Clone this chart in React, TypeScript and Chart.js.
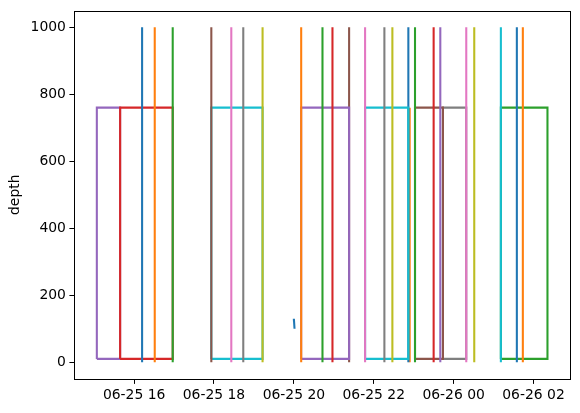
import { useEffect, useRef } from "react";
import { Chart, registerables } from "chart.js";

Chart.register(...registerables);

// matplotlib tab10 colour cycle
const palette = [
  "#1f77b4", "#ff7f0e", "#2ca02c", "#d62728", "#9467bd",
  "#8c564b", "#e377c2", "#7f7f7f", "#bcbd22", "#17becf",
];

// one entry per plotted series (in plotting order -> colour cycle)
const seriesKind = [
  "line", "line", "line", "box", "box", "line", "line", "line", "line", "box",
  "line", "line", "line", "line", "box", "line", "line", "line", "line", "box",
  "line", "line", "line", "line", "line", "box", "line", "box", "line", "line",
  "line", "line", "box",
];
const seriesStart = [
  "06-25 16:12", "06-25 16:31", "06-25 16:58", "06-25 15:39", "06-25 15:04",
  "06-25 17:56", "06-25 18:26", "06-25 18:44", "06-25 19:13", "06-25 17:56",
  "06-25 20:01", "06-25 20:11", "06-25 20:43", "06-25 20:58", "06-25 20:11",
  "06-25 21:23", "06-25 21:47", "06-25 22:16", "06-25 22:28", "06-25 21:47",
  "06-25 22:52", "06-25 22:54", "06-25 23:02", "06-25 23:30", "06-25 23:40",
  "06-25 23:02", "06-26 00:19", "06-25 23:44", "06-26 00:31", "06-26 01:11",
  "06-26 01:35", "06-26 01:44", "06-26 01:11",
];
const seriesEnd = [
  "06-25 16:12", "06-25 16:31", "06-25 16:58", "06-25 16:58", "06-25 15:39",
  "06-25 17:56", "06-25 18:26", "06-25 18:44", "06-25 19:13", "06-25 19:13",
  "06-25 20:00", "06-25 20:11", "06-25 20:43", "06-25 20:58", "06-25 21:23",
  "06-25 21:23", "06-25 21:47", "06-25 22:16", "06-25 22:28", "06-25 22:52",
  "06-25 22:52", "06-25 22:54", "06-25 23:02", "06-25 23:30", "06-25 23:40",
  "06-25 23:44", "06-26 00:19", "06-26 00:19", "06-26 00:31", "06-26 01:11",
  "06-26 01:35", "06-26 01:44", "06-26 02:21",
];
const seriesBottom = [
  0, 0, 0, 10, 10, 0, 0, 0, 0, 10,
  100, 0, 0, 0, 10, 0, 0, 0, 0, 10,
  0, 0, 0, 0, 0, 10, 0, 10, 0, 0,
  0, 0, 10,
];
const seriesTop = [
  1000, 1000, 1000, 760, 760, 1000, 1000, 1000, 1000, 760,
  130, 1000, 1000, 1000, 760, 1000, 1000, 1000, 1000, 760,
  1000, 760, 1000, 1000, 1000, 760, 1000, 760, 1000, 1000,
  1000, 1000, 760,
];

const xTickLabels = ["06-25 16", "06-25 18", "06-25 20", "06-25 22", "06-26 00", "06-26 02"];
const yTickValues = [0, 200, 400, 600, 800, 1000];
const yLabel = "depth";

// hours since 06-25 00:00
function toHours(s: string): number {
  const [md, hm] = s.split(" ");
  const day = parseInt(md.split("-")[1], 10);
  const [h, m] = (hm || "00:00").split(":").map((v) => parseInt(v, 10));
  return (day - 25) * 24 + h + (m || 0) / 60;
}

function fmtHours(v: number): string {
  const day = 25 + Math.floor(v / 24);
  const h = Math.round(v - Math.floor(v / 24) * 24);
  return `06-${String(day).padStart(2, "0")} ${String(h).padStart(2, "0")}`;
}

const frame = {
  id: "frame",
  afterDatasetsDraw(chart: any) {
    const { ctx, chartArea: a } = chart;
    ctx.save();
    ctx.strokeStyle = "#000";
    ctx.lineWidth = 1;
    ctx.strokeRect(Math.round(a.left) + 0.5, Math.round(a.top) + 0.5,
      Math.round(a.right - a.left), Math.round(a.bottom - a.top) - 1);
    ctx.restore();
  },
};

export default function App() {
  const ref = useRef<HTMLCanvasElement | null>(null);

  useEffect(() => {
    if (!ref.current) return;
    const datasets = seriesKind.map((kind, i) => {
      const s = toHours(seriesStart[i]);
      const e = toHours(seriesEnd[i]);
      const b = seriesBottom[i];
      const t = seriesTop[i];
      const data = kind === "box"
        ? [{ x: s, y: b }, { x: s, y: t }, { x: e, y: t }, { x: e, y: b }, { x: s, y: b }]
        : [{ x: s, y: b }, { x: e, y: t }];
      const color = palette[i % palette.length];
      return {
        data,
        showLine: true,
        borderColor: color,
        backgroundColor: color,
        borderWidth: 2.08,
        pointRadius: 0,
        pointHoverRadius: 0,
        fill: false,
        tension: 0,
        borderJoinStyle: "miter" as const,
      };
    });

    const allT = [...seriesStart, ...seriesEnd].map(toHours);
    const tMin = Math.min(...allT);
    const tMax = Math.max(...allT);
    const pad = (tMax - tMin) * 0.05;
    const dMin = Math.min(...seriesBottom, ...yTickValues);
    const dMax = Math.max(...seriesTop, ...yTickValues);
    const dPad = (dMax - dMin) * 0.05;

    const font = { family: "'DejaVu Sans', sans-serif", size: 13.9 };

    const chart = new Chart(ref.current, {
      type: "scatter",
      data: { datasets: datasets as any },
      plugins: [frame],
      options: {
        animation: false,
        responsive: false,
        events: [],
        layout: { padding: { left: 0, top: 10.5, right: 10, bottom: 0 } },
        plugins: { legend: { display: false }, tooltip: { enabled: false } },
        scales: {
          x: {
            type: "linear",
            min: tMin - pad,
            max: tMax + pad,
            afterFit: (sc: any) => { sc.height = 34; sc.paddingLeft = 0; sc.paddingRight = 0; },
            afterBuildTicks: (sc: any) => {
              sc.ticks = xTickLabels.map((l) => ({ value: toHours(l) }));
            },
            border: { display: false },
            grid: {
              drawOnChartArea: false, drawTicks: true, tickLength: 4.9,
              tickColor: "#000", tickWidth: 1,
            },
            ticks: {
              color: "#000", font, padding: 3, maxRotation: 0, autoSkip: false,
              callback: (v: any) => fmtHours(Number(v)),
            },
          },
          y: {
            type: "linear",
            min: dMin - dPad,
            max: dMax + dPad,
            afterFit: (sc: any) => { sc.width = 74.3; sc.paddingTop = 0; sc.paddingBottom = 0; },
            afterBuildTicks: (sc: any) => {
              sc.ticks = yTickValues.map((v) => ({ value: v }));
            },
            border: { display: false },
            grid: {
              drawOnChartArea: false, drawTicks: true, tickLength: 4.9,
              tickColor: "#000", tickWidth: 1,
            },
            ticks: { color: "#000", font, padding: 3.5, callback: (v: any) => String(v) },
            title: {
              display: true, text: yLabel, color: "#000", font,
              padding: { top: 7.5, bottom: 0 },
            },
          },
        },
      },
    });
    return () => chart.destroy();
  }, []);

  return (
    <div style={{ position: "absolute", left: 0, top: 0, width: 580, height: 413, background: "#fff" }}>
      <canvas ref={ref} width={580} height={413} style={{ display: "block" }} />
    </div>
  );
}
